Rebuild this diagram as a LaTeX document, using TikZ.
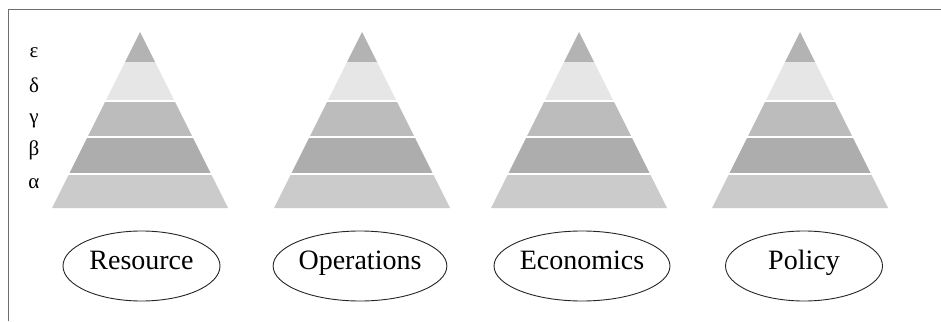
\documentclass[tikz,border=0pt]{standalone}
\usepackage{fontspec}
\setmainfont{Liberation Serif}
\usetikzlibrary{shapes.geometric}
\definecolor{cEps}{HTML}{B3B3B3}
\definecolor{cDel}{HTML}{E6E6E6}
\definecolor{cGam}{HTML}{BCBCBC}
\definecolor{cBet}{HTML}{ADADAD}
\definecolor{cAlp}{HTML}{CBCBCB}
\definecolor{frameC}{HTML}{6E6E6E}
\tikzset{
  catbox/.style={draw=black!85, line width=0.9pt, ellipse, minimum width=157pt, minimum height=70pt, inner sep=0pt, text height=13pt, text depth=7pt, font=\fontsize{28}{30}\selectfont},
  greek/.style={font=\fontsize{21}{23}\selectfont, inner sep=0pt, anchor=base},
  gap/.style={white, line width=1.4pt}
}
\newcommand{\pyr}[2]{%
  % #1 = centre x, #2 = name
  \coordinate (#2top) at (#1,32);
  \fill[cEps] (#1,32) -- (#1-15,62) -- (#1+15,62) -- cycle;
  \fill[cDel] (#1-15,62) -- (#1-34.5,101) -- (#1+34.5,101) -- (#1+15,62) -- cycle;
  \fill[cGam] (#1-34.5,101) -- (#1-52.5,137) -- (#1+52.5,137) -- (#1+34.5,101) -- cycle;
  \fill[cBet] (#1-52.5,137) -- (#1-71,174) -- (#1+71,174) -- (#1+52.5,137) -- cycle;
  \fill[cAlp] (#1-71,174) -- (#1-88,208) -- (#1+88,208) -- (#1+71,174) -- cycle;
  \draw[gap] (#1-36,101) -- (#1+36,101);
  \draw[gap] (#1-54,137) -- (#1+54,137);
  \draw[gap] (#1-73,174) -- (#1+73,174);
}
\begin{document}
\begin{tikzpicture}[x=1pt,y=-1pt]
\useasboundingbox (0,0) rectangle (941,321);
\fill[white] (0,0) rectangle (941,321);
\draw[frameC, line width=1pt] (8,321) -- (8,10) -- (941,10);
\pyr{140}{p1}
\pyr{362}{p2}
\pyr{579}{p3}
\pyr{800}{p4}
\node[greek] (eps) at (34,58) {ε};
\node[greek] (del) at (34,92) {δ};
\node[greek] (gam) at (34,123) {γ};
\node[greek] (bet) at (34,155) {β};
\node[greek] (alp) at (34,188) {α};
\node[catbox] (res) at (141.5,266) {Resource};
\node[catbox] (ope) at (360,266) {Operations};
\node[catbox] (eco) at (582,266) {Economics};
\node[catbox] (pol) at (804,266) {Policy};
\end{tikzpicture}
\end{document}
